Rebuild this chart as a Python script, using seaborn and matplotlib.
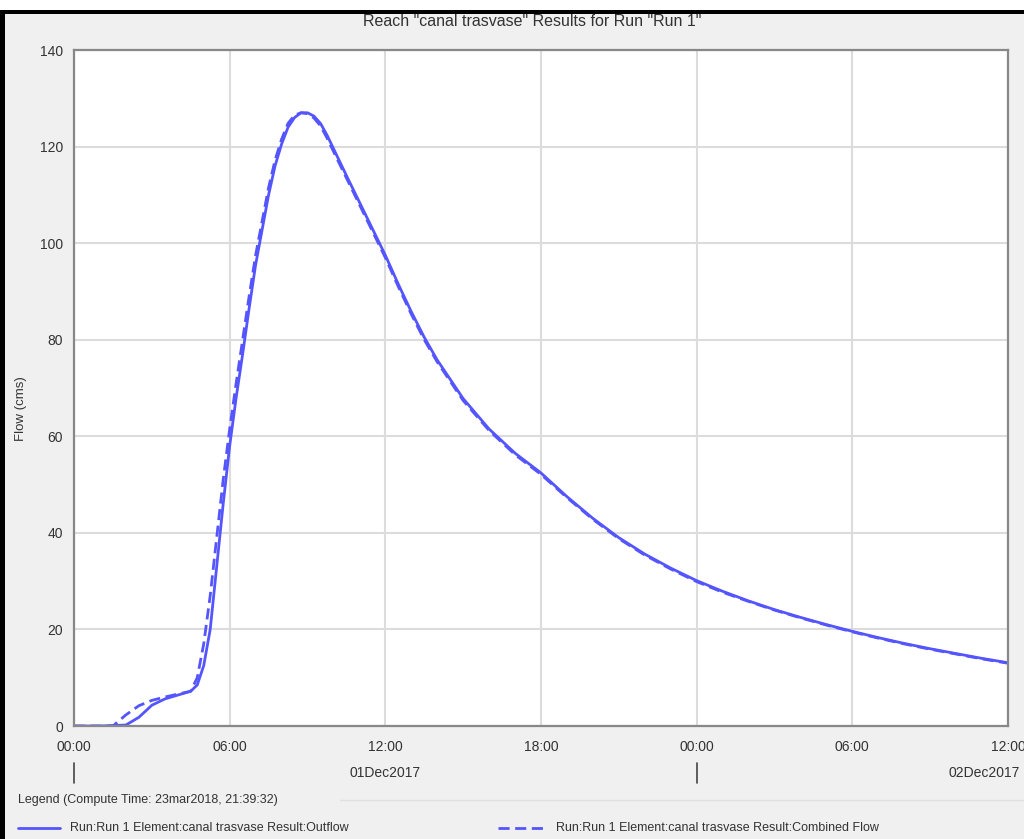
import numpy as np
import pandas as pd
import matplotlib
matplotlib.use("Agg")
import matplotlib.pyplot as plt
from matplotlib.patches import Rectangle
from matplotlib.lines import Line2D
import seaborn as sns

# hours after 01Dec2017 00:00
hours_out = [0, 1, 2, 2.5, 3, 3.5, 4, 4.5, 4.75, 5, 5.25, 5.5, 5.75, 6, 6.25, 6.5, 6.75, 7,
             7.5, 7.75, 8, 8.25, 8.5, 8.75, 9, 9.25, 9.5, 9.75, 10, 10.5, 11, 11.5, 12, 12.5,
             13, 13.5, 14, 15, 16, 17, 18, 19, 20, 21, 22, 23, 24, 25, 26, 27, 28, 29, 30,
             31, 32, 33, 34, 35, 36]
outflow = [0, 0, 0.2, 1.8, 4.3, 5.6, 6.4, 7.2, 8.5, 12.5, 20, 33, 46, 58, 68, 77, 86.5, 95.5,
           110, 116, 120.5, 124, 126, 127, 127, 126.3, 124.8, 122.4, 119.6, 114, 108.5, 103,
           97.5, 91.5, 85.8, 80.5, 75.8, 67.8, 61.5, 56.5, 52.4, 47.5, 43, 39, 35.6, 32.7,
           30.1, 27.9, 25.9, 24.1, 22.5, 21, 19.6, 18.3, 17.1, 16, 15, 14, 13.1]

hours_comb = [0, 1, 1.5, 2, 2.5, 3, 3.5, 4, 4.5, 4.75, 5, 5.25, 5.5, 5.75, 6, 6.25, 6.5, 6.75,
              7, 7.5, 7.75, 8, 8.25, 8.5, 8.75, 9, 9.25, 9.5, 9.75, 10, 10.5, 11, 11.5, 12,
              12.5, 13, 13.5, 14, 15, 16, 17, 18, 19, 20, 21, 22, 23, 24, 25, 26, 27, 28, 29,
              30, 31, 32, 33, 34, 35, 36]
combined = [0, 0, 0, 2.3, 4.2, 5.3, 6, 6.6, 7.2, 10, 17, 27, 39, 51, 61.5, 71, 80, 89, 97.5,
            111.5, 117.2, 121.5, 124.8, 126.5, 127, 126.8, 125.9, 124.3, 121.8, 119, 113.5,
            108, 102.5, 97, 91, 85.3, 80, 75.4, 67.4, 61.2, 56.2, 52.1, 47.3, 42.8, 38.8,
            35.4, 32.5, 29.9, 27.7, 25.8, 24, 22.4, 20.9, 19.5, 18.2, 17, 15.9, 14.9, 13.9, 13]

tick_hours = [0, 6, 12, 18, 24, 30, 36]
tick_labels = ["00:00", "06:00", "12:00", "18:00", "00:00", "06:00", "12:00"]
date_labels = ["01Dec2017", "02Dec2017"]

title = 'Reach "canal trasvase" Results for Run "Run 1"'
legend_title = "Legend (Compute Time: 23mar2018, 21:39:32)"
names = ["Run:Run 1 Element:canal trasvase Result:Outflow",
         "Run:Run 1 Element:canal trasvase Result:Combined Flow"]

sns.set_style("white")
plt.rcParams["font.family"] = ["Liberation Sans", "DejaVu Sans"]

W, H = 1024, 839
fig = plt.figure(figsize=(W / 100, H / 100), dpi=100)
fig.patch.set_facecolor("white")
fig.patches.append(Rectangle((0, 0), 1, (H - 10) / H, transform=fig.transFigure,
                             facecolor="black", edgecolor="none", zorder=-3))
fig.patches.append(Rectangle((5 / W, 0), 1, (H - 14) / H, transform=fig.transFigure,
                             facecolor="#f0f0f0", edgecolor="none", zorder=-2))

ax = fig.add_axes([74 / W, (H - 726) / H, 934 / W, 676 / H])
ax.set_facecolor("white")

blue = "#5555ff"
df_out = pd.DataFrame({"hours": hours_out, "flow": outflow})
df_comb = pd.DataFrame({"hours": hours_comb, "flow": combined})
sns.lineplot(data=df_out, x="hours", y="flow", ax=ax, color=blue, lw=2)
sns.lineplot(data=df_comb, x="hours", y="flow", ax=ax, color=blue, lw=2, dashes=False)
ax.lines[-1].set_linestyle((0, (4, 2)))

ax.set_xlim(0, 36)
ax.set_ylim(0, 140)
ax.set_xticks(tick_hours)
ax.set_xticklabels(tick_labels)
ax.set_yticks(range(0, 141, 20))
ax.grid(True, color="#dcdcdc", lw=1.5)
ax.tick_params(axis="both", length=5, width=1.2, color="#666666", labelsize=10,
               labelcolor="#333333", direction="out", pad=3)
ax.tick_params(axis="x", pad=5)
for s in ax.spines.values():
    s.set_color("#888888")
    s.set_linewidth(1.6)
ax.set_xlabel("")
ax.set_ylabel("Flow (cms)", fontsize=9.5, color="#333333")
ax.yaxis.set_label_coords(-0.05, 0.47)

fig.text(0.52, (H - 22) / H, title, ha="center", va="center", fontsize=11.5, color="#333333")

# date row
to_fig = lambda h: (74 + 934 * h / 36) / W
for h in [0, 24]:
    fig.add_artist(Line2D([to_fig(h)] * 2, [(H - 783) / H, (H - 763) / H],
                          color="#444444", lw=1.2))
fig.text(to_fig(12), (H - 773) / H, date_labels[0], ha="center", va="center",
         fontsize=10, color="#333333")
fig.text(1020 / W, (H - 773) / H, date_labels[1], ha="right", va="center",
         fontsize=10, color="#333333")

# legend area
fig.text(18 / W, (H - 800) / H, legend_title, ha="left", va="center", fontsize=9, color="#333333")
fig.add_artist(Line2D([340 / W, 1], [(H - 800) / H] * 2, color="#e0e0e0", lw=1))
fig.add_artist(Line2D([18 / W, 60 / W], [(H - 828) / H] * 2, color=blue, lw=2))
fig.text(70 / W, (H - 828) / H, names[0], ha="left", va="center", fontsize=9, color="#333333")
fig.add_artist(Line2D([498 / W, 546 / W], [(H - 828) / H] * 2, color=blue, lw=2,
                      linestyle=(0, (4, 2))))
fig.text(556 / W, (H - 828) / H, names[1], ha="left", va="center", fontsize=9, color="#333333")

fig.savefig("out.png", dpi=100)
